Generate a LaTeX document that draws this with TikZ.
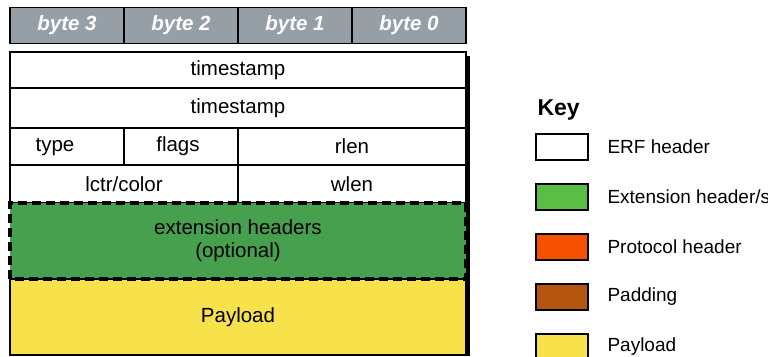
\documentclass[tikz,border=0pt]{standalone}
\usepackage{fontspec}
\setmainfont{Liberation Sans}
\usetikzlibrary{positioning}
\definecolor{bytegray}{RGB}{150,158,166}
\definecolor{extgreen}{RGB}{70,160,78}
\definecolor{keygreen}{RGB}{90,190,70}
\definecolor{protored}{RGB}{245,80,0}
\definecolor{padbrown}{RGB}{180,85,15}
\definecolor{payyellow}{RGB}{248,226,75}
\begin{document}
\begin{tikzpicture}
[x=1pt, y=-1pt, font=\fontsize{20.5}{23}\selectfont,
       cell/.style={draw, line width=1.5pt, inner sep=0pt, outer sep=0pt,
                    minimum height=#1, minimum width=114pt},
       bytecell/.style={cell=36pt, fill=bytegray, text=white,
                    font=\bfseries\itshape\fontsize{20.5}{23}\selectfont},
       keybox/.style={draw, line width=1.5pt, minimum width=52pt,
                    minimum height=26pt, inner sep=0pt},
       keylabel/.style={anchor=west, font=\fontsize{19}{22}\selectfont}]
  \useasboundingbox (0,0) rectangle (768,356);
  % byte header
  \foreach \b [count=\i] in {3,2,1,0}
    \node[bytecell] (byte\b) at ({67+114*(\i-1)},25.5) {byte \b};
  % shadow
  \fill[black] (461,56) rectangle (470,356);
  % ERF record
  \node[cell=36pt, minimum width=456pt, fill=white] (ts1) at (238,70) {timestamp};
  \node[cell=40pt, minimum width=456pt, fill=white, below=0pt of ts1] (ts2) {timestamp};
  \node[cell=37pt, fill=white, below right=0pt of ts2.south west] (type) {\hspace*{-24pt}type};
  \node[cell=37pt, fill=white, right=0pt of type] (flags) {\hspace*{-6pt}flags};
  \node[cell=37pt, minimum width=228pt, fill=white, right=0pt of flags] (rlen) {rlen};
  \node[cell=38pt, minimum width=228pt, fill=white, below right=0pt of type.south west] (lctr) {lctr/color};
  \node[cell=38pt, minimum width=228pt, fill=white, right=0pt of lctr] (wlen) {wlen};
  \node[cell=76pt, minimum width=456pt, fill=extgreen, draw=none,
        below right=0pt of lctr.south west, align=center] (ext) {extension headers\\(optional)};
  \node[cell=76pt, minimum width=456pt, fill=payyellow, below=0pt of ext] (pay) {Payload};
  \draw[line width=3.5pt, dash pattern=on 9pt off 5pt] (ext.south west) rectangle (ext.north east);
  % key
  \node[anchor=west, font=\bfseries\fontsize{23}{26}\selectfont] (key) at (534,110) {Key};
  \foreach \c/\t [count=\i] in {white/ERF header, keygreen/{Extension header/s},
      protored/Protocol header, padbrown/Padding, payyellow/Payload}
  {
    \node[keybox, fill=\c] (box\i) at (562,{147+50*(\i-1)}) {};
    \node[keylabel] (lab\i) at (604,{147+50*(\i-1)}) {\t};
  }
\end{tikzpicture}
\end{document}
